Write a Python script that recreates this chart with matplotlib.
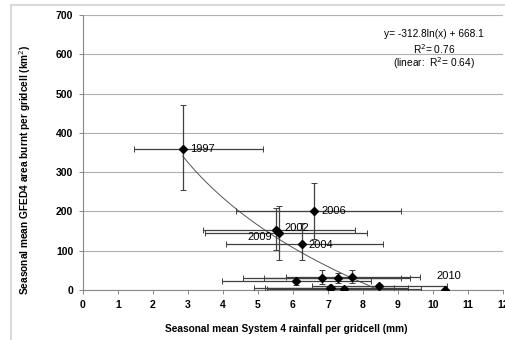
import numpy as np
import matplotlib
matplotlib.use("Agg")
import matplotlib.pyplot as plt
from matplotlib.patches import Rectangle

plt.rcParams['font.family'] = ['Liberation Sans', 'DejaVu Sans']

# data
rain      = [2.85, 6.60, 5.51, 5.59, 6.27, 6.10, 6.82, 7.30, 7.69, 8.47, 7.09, 7.05, 7.47, 10.34]
rain_lo   = [1.46, 4.37, 3.43, 3.49, 4.10, 3.96, 4.56, 5.17, 5.80, 6.55, 4.89, 5.20, 5.27, 10.34]
rain_hi   = [5.13, 9.10, 7.77, 8.11, 8.58, 8.24, 9.10, 9.34, 9.63, 10.39, 9.29, 8.90, 9.67, 10.34]
burnt     = [360, 202, 154, 146, 117, 23, 30, 30, 34, 11, 6, 4, 2, 0]
burnt_lo  = [254, 130, 102, 76, 76, 13, 16, 18, 18, 5, 2, 1, 0, 0]
burnt_hi  = [471, 272, 210, 215, 170, 34, 51, 44, 50, 16, 10, 7, 4, 0]
years     = ['1997', '2006', '2002', '2009', '2004', '', '', '', '', '', '', '', '', '2010']
label_pos = {'1997': (3.05, 360), '2006': (6.8, 202), '2002': (5.75, 157),
             '2009': (4.7, 134), '2004': (6.45, 115), '2010': (10.1, 36)}
fit_a, fit_b = -312.8, 668.1
x_ticks = list(range(0, 13))
y_ticks = list(range(0, 701, 100))

fig = plt.figure(figsize=(5.06, 3.40), dpi=100)
fig.patches.append(Rectangle((11/506, -0.1), 1.2, (1 - 5/340) + 0.1,
                             transform=fig.transFigure, fill=False,
                             edgecolor='#d9d9d9', linewidth=1.5))
ax = fig.add_axes([83/506, 1 - 290/340, 420/506, 275/340])

x = np.array(rain); y = np.array(burnt)
xerr = [x - np.array(rain_lo), np.array(rain_hi) - x]
yerr = [y - np.array(burnt_lo), np.array(burnt_hi) - y]
ax.errorbar(x, y, xerr=xerr, yerr=yerr, fmt='none', ecolor='#404040',
            elinewidth=0.9, capsize=2, capthick=0.7, zorder=3)
ax.plot(x, y, linestyle='none', marker='D', markersize=3.6, color='black', zorder=4)

xf = np.linspace(min(rain), np.exp(-fit_b / fit_a), 200)
ax.plot(xf, fit_a * np.log(xf) + fit_b, color='#555555', linewidth=0.7, zorder=2)

for yr in years:
    if yr:
        px, py = label_pos[yr]
        ax.text(px, py, yr, fontsize=8, va='center', ha='left', color='black', zorder=5)

ax.text(0.836, 0.93, 'y= -312.8ln(x) + 668.1', transform=ax.transAxes, ha='center', va='center', fontsize=7.3)
ax.text(0.836, 0.877, 'R$^2$= 0.76', transform=ax.transAxes, ha='center', va='center', fontsize=7.3)
ax.text(0.836, 0.824, '(linear:  R$^2$= 0.64)', transform=ax.transAxes, ha='center', va='center', fontsize=7.3)

ax.set_xlim(0, 12)
ax.set_ylim(0, 700)
ax.set_xticks(x_ticks)
ax.set_yticks(y_ticks)
ax.set_xticklabels([str(t) for t in x_ticks], fontsize=7.5, fontweight='bold')
ax.set_yticklabels([str(t) for t in y_ticks], fontsize=7.5, fontweight='bold')
ax.tick_params(axis='both', length=3, width=0.7, color='#888888', pad=4)
ax.yaxis.grid(True, color='#b0b0b0', linewidth=0.8)
ax.set_axisbelow(True)
for s in ['top', 'right']:
    ax.spines[s].set_visible(False)
for s in ['left', 'bottom']:
    ax.spines[s].set_color('#888888')
    ax.spines[s].set_linewidth(0.8)

ax.set_xlabel('Seasonal mean System 4 rainfall per gridcell (mm)', fontsize=7.3, fontweight='bold')
ax.xaxis.set_label_coords(0.483, -0.125)
ax.set_ylabel('Seasonal mean GFED4 area burnt per gridcell (km$^2$)', fontsize=7.3, fontweight='bold')
ax.yaxis.set_label_coords(-0.118, 0.436)

fig.savefig('out.png', dpi=100)
